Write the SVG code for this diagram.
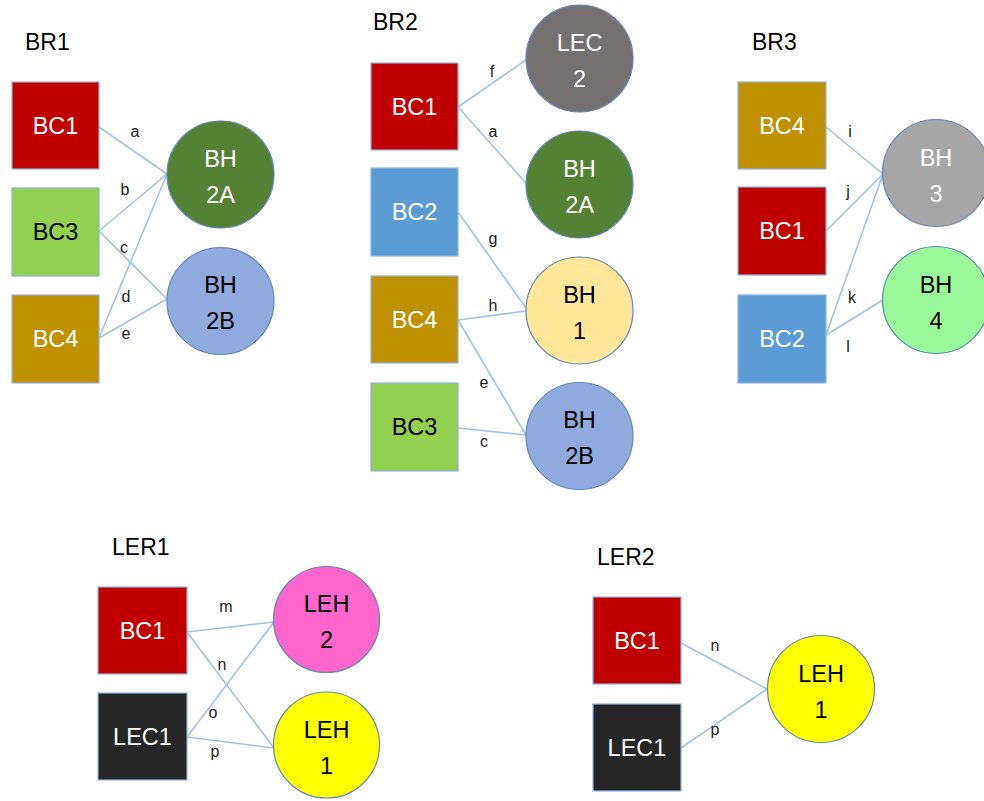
<svg xmlns="http://www.w3.org/2000/svg" width="984" height="801" viewBox="0 0 984 801">
<style>
.bg{fill:#ffffff}
.box{stroke:#8FB3E0;stroke-width:1.2}
.circ{stroke:#5E86B8;stroke-width:1.2}
.edge{stroke:#9DC3E6;stroke-width:1.6;fill:none}
.t{font-family:"Liberation Sans",Arial,sans-serif;font-size:23.5px;text-anchor:middle}
.w{fill:#ffffff}
.k{fill:#000000}
.title{font-family:"Liberation Sans",Arial,sans-serif;font-size:23px;fill:#000000}
.lbl{font-family:"Liberation Sans",Arial,sans-serif;font-size:16px;fill:#222222;text-anchor:middle}
.red{fill:#C00000}
.lg{fill:#92D050}
.gold{fill:#BF9000}
.blue{fill:#5B9BD5}
.blk{fill:#262626}
.dg{fill:#548235}
.pb{fill:#8FAADC}
.gray{fill:#767171}
.yl{fill:#FFE699}
.lgray{fill:#A6A6A6}
.mint{fill:#99F999}
.pink{fill:#FF66CC}
.yel{fill:#FFFF00}
</style>
<rect class="bg" x="0" y="0" width="984" height="801"/>

<g id="titles">
<text class="title" x="25" y="50">BR1</text>
<text class="title" x="373" y="30">BR2</text>
<text class="title" x="752" y="50">BR3</text>
<text class="title" x="112" y="555">LER1</text>
<text class="title" x="597" y="565">LER2</text>
</g>

<g id="connectors">
<line class="edge" x1="99" y1="127" x2="167" y2="174"/>
<line class="edge" x1="99" y1="231" x2="167" y2="174"/>
<line class="edge" x1="99" y1="231" x2="167" y2="299"/>
<line class="edge" x1="99" y1="338" x2="167" y2="174"/>
<line class="edge" x1="99" y1="338" x2="167" y2="299"/>

<line class="edge" x1="458" y1="107" x2="526" y2="60"/>
<line class="edge" x1="458" y1="107" x2="526" y2="183"/>
<line class="edge" x1="458" y1="212" x2="526" y2="308"/>
<line class="edge" x1="458" y1="320" x2="526" y2="311"/>
<line class="edge" x1="458" y1="320" x2="526" y2="435"/>
<line class="edge" x1="458" y1="428" x2="526" y2="435"/>

<line class="edge" x1="826" y1="127" x2="883" y2="174"/>
<line class="edge" x1="826" y1="231" x2="883" y2="174"/>
<line class="edge" x1="826" y1="335" x2="883" y2="174"/>
<line class="edge" x1="826" y1="335" x2="883" y2="300"/>

<line class="edge" x1="187" y1="632" x2="274" y2="622"/>
<line class="edge" x1="187" y1="632" x2="274" y2="748"/>
<line class="edge" x1="187" y1="737" x2="274" y2="622"/>
<line class="edge" x1="187" y1="737" x2="274" y2="748"/>

<line class="edge" x1="681" y1="643" x2="767" y2="689"/>
<line class="edge" x1="681" y1="748" x2="767" y2="689"/>
</g>

<g id="labels">
<text class="lbl" x="135" y="137">a</text>
<text class="lbl" x="125" y="195">b</text>
<text class="lbl" x="124" y="253">c</text>
<text class="lbl" x="126" y="302">d</text>
<text class="lbl" x="126" y="339">e</text>

<text class="lbl" x="492" y="77">f</text>
<text class="lbl" x="493" y="137">a</text>
<text class="lbl" x="493" y="244">g</text>
<text class="lbl" x="493" y="311">h</text>
<text class="lbl" x="484" y="388">e</text>
<text class="lbl" x="484" y="447">c</text>

<text class="lbl" x="850" y="137">i</text>
<text class="lbl" x="848" y="197">j</text>
<text class="lbl" x="852" y="303">k</text>
<text class="lbl" x="848" y="352">l</text>

<text class="lbl" x="226" y="612">m</text>
<text class="lbl" x="222" y="670">n</text>
<text class="lbl" x="213" y="718">o</text>
<text class="lbl" x="215" y="757">p</text>

<text class="lbl" x="715" y="651">n</text>
<text class="lbl" x="715" y="735">p</text>
</g>

<g id="br1-bc1"><rect class="box red" x="12" y="82" width="87" height="87"/><text class="t w" x="55.5" y="134">BC1</text></g>
<g id="br1-bc3"><rect class="box lg" x="12" y="188" width="87" height="88"/><text class="t k" x="55.5" y="240">BC3</text></g>
<g id="br1-bc4"><rect class="box gold" x="12" y="295" width="87" height="88"/><text class="t w" x="55.5" y="347">BC4</text></g>
<g id="br1-bh2a"><circle class="circ dg" cx="220.5" cy="174.5" r="53.5"/><text class="t w" x="220.5" y="167">BH</text><text class="t w" x="220.5" y="203">2A</text></g>
<g id="br1-bh2b"><circle class="circ pb" cx="220.5" cy="301" r="53.5"/><text class="t k" x="220.5" y="293">BH</text><text class="t k" x="220.5" y="329">2B</text></g>

<g id="br2-bc1"><rect class="box red" x="371" y="63" width="87" height="87"/><text class="t w" x="414.5" y="115">BC1</text></g>
<g id="br2-bc2"><rect class="box blue" x="371" y="168" width="87" height="88"/><text class="t w" x="414.5" y="220">BC2</text></g>
<g id="br2-bc4"><rect class="box gold" x="371" y="276" width="87" height="87"/><text class="t w" x="414.5" y="328">BC4</text></g>
<g id="br2-bc3"><rect class="box lg" x="371" y="383" width="87" height="88"/><text class="t k" x="414.5" y="435">BC3</text></g>
<g id="br2-lec2"><circle class="circ gray" cx="579.5" cy="58.5" r="53.5"/><text class="t w" x="579.5" y="51">LEC</text><text class="t w" x="579.5" y="87">2</text></g>
<g id="br2-bh2a"><circle class="circ dg" cx="579.5" cy="184.5" r="53.5"/><text class="t w" x="579.5" y="177">BH</text><text class="t w" x="579.5" y="213">2A</text></g>
<g id="br2-bh1"><circle class="circ yl" cx="579.5" cy="310.5" r="53.5"/><text class="t k" x="579.5" y="303">BH</text><text class="t k" x="579.5" y="339">1</text></g>
<g id="br2-bh2b"><circle class="circ pb" cx="579.5" cy="436" r="53.5"/><text class="t k" x="579.5" y="428">BH</text><text class="t k" x="579.5" y="464">2B</text></g>

<g id="br3-bc4"><rect class="box gold" x="738" y="82" width="88" height="87"/><text class="t w" x="782" y="134">BC4</text></g>
<g id="br3-bc1"><rect class="box red" x="738" y="187" width="88" height="88"/><text class="t w" x="782" y="239">BC1</text></g>
<g id="br3-bc2"><rect class="box blue" x="738" y="295" width="88" height="88"/><text class="t w" x="782" y="347">BC2</text></g>
<g id="br3-bh3"><circle class="circ lgray" cx="936" cy="173" r="53.5"/><text class="t w" x="936" y="166">BH</text><text class="t w" x="936" y="202">3</text></g>
<g id="br3-bh4"><circle class="circ mint" cx="936" cy="300" r="53.5"/><text class="t k" x="936" y="293">BH</text><text class="t k" x="936" y="329">4</text></g>

<g id="ler1-bc1"><rect class="box red" x="98" y="587" width="89" height="87"/><text class="t w" x="142.5" y="639">BC1</text></g>
<g id="ler1-lec1"><rect class="box blk" x="98" y="693" width="89" height="87"/><text class="t w" x="142.5" y="745">LEC1</text></g>
<g id="ler1-leh2"><circle class="circ pink" cx="326.5" cy="619.5" r="53"/><text class="t k" x="326.5" y="612">LEH</text><text class="t k" x="326.5" y="648">2</text></g>
<g id="ler1-leh1"><circle class="circ yel" cx="326.5" cy="745" r="53"/><text class="t k" x="326.5" y="738">LEH</text><text class="t k" x="326.5" y="774">1</text></g>

<g id="ler2-bc1"><rect class="box red" x="593" y="597" width="88" height="87"/><text class="t w" x="637" y="649">BC1</text></g>
<g id="ler2-lec1"><rect class="box blk" x="593" y="704" width="88" height="87"/><text class="t w" x="637" y="756">LEC1</text></g>
<g id="ler2-leh1"><circle class="circ yel" cx="821" cy="689" r="53.5"/><text class="t k" x="821" y="682">LEH</text><text class="t k" x="821" y="718">1</text></g>
</svg>
